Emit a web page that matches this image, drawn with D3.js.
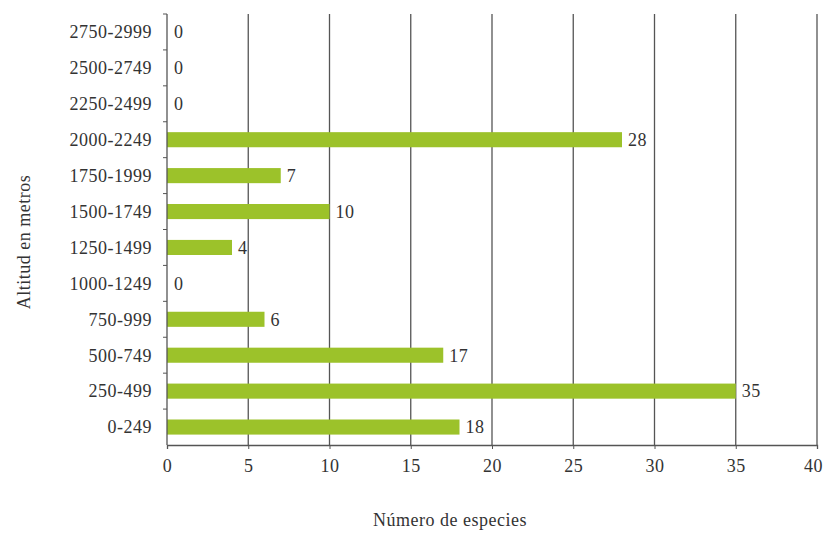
<!DOCTYPE html>
<html>
<head>
<meta charset="utf-8">
<script src="https://cdn.jsdelivr.net/npm/d3@7"></script>
<style>
  body { margin: 0; background: #fff; }
  text { font-family: "Liberation Serif", "DejaVu Serif", serif; fill: #333; letter-spacing: 0.5px; }
</style>
</head>
<body>
<script>
    var categories = ["0-249", "250-499", "500-749", "750-999", "1000-1249", "1250-1499",
                      "1500-1749", "1750-1999", "2000-2249", "2250-2499", "2500-2749", "2750-2999"];
    var values = [18, 35, 17, 6, 0, 4, 10, 7, 28, 0, 0, 0];
    var xTicks = [0, 5, 10, 15, 20, 25, 30, 35, 40];

    var margin = {top: 14, right: 7, bottom: 91, left: 167},
    width = 824 - margin.left - margin.right,
    height = 536 - margin.top - margin.bottom;

    var data = categories.map(function(c, i) { return {cat: c, val: values[i]}; });

    var x = d3.scaleLinear().domain([0, 40]).range([0, width]);
    var y = d3.scaleBand()
      .domain(categories.slice().reverse())
      .range([0, height])
      .paddingInner(0.58)
      .paddingOuter(0.29);

    var svg = d3.select("body").append("svg")
      .attr("width", 824)
      .attr("height", 536)
    .append("g")
      .attr("transform", "translate(" + margin.left + "," + margin.top + ")");

    //gridlines
    svg.selectAll(".grid")
      .data(xTicks.slice(1))
      .enter().append("line")
      .attr("x1", function(d) { return x(d); })
      .attr("x2", function(d) { return x(d); })
      .attr("y1", 0)
      .attr("y2", height)
      .style("stroke", "#555")
      .style("stroke-width", 1.3);

    //bars
    svg.selectAll(".bar")
      .data(data)
      .enter().append("rect")
      .attr("x", 0)
      .attr("y", function(d) { return y(d.cat); })
      .attr("width", function(d) { return x(d.val); })
      .attr("height", y.bandwidth())
      .style("fill", "#9cc22a");

    //value labels
    svg.selectAll(".lbl")
      .data(data)
      .enter().append("text")
      .attr("x", function(d) { return x(d.val) + (d.val === 0 ? 7 : 6); })
      .attr("y", function(d) { return y(d.cat) + y.bandwidth() / 2; })
      .attr("dy", "0.35em")
      .style("font-size", "18px")
      .text(function(d) { return d.val; });

    //x axis
    var xAxis = svg.append("g")
      .attr("transform", "translate(0," + height + ")")
      .call(d3.axisBottom(x).tickValues(xTicks).tickSize(4).tickPadding(10));
    xAxis.select(".domain").style("stroke", "#555").style("stroke-width", 1.3);
    xAxis.selectAll("line").style("stroke", "#555");
    xAxis.selectAll("text").style("font-size", "18px").style("fill", "#333")
      .style("font-family", "Liberation Serif, serif");
    // keep the last label inside the frame
    xAxis.selectAll("text").filter(function(d) { return d === 40; }).attr("dx", -4);

    //y axis line with boundary ticks
    svg.append("line")
      .attr("x1", 0).attr("x2", 0).attr("y1", 0).attr("y2", height)
      .style("stroke", "#555").style("stroke-width", 1.3);
    var bounds = categories.map(function(c) { return y(c) - y.step() * y.paddingInner() / 2; });
    svg.selectAll(".ytick")
      .data(bounds)
      .enter().append("line")
      .attr("x1", -4).attr("x2", 0)
      .attr("y1", function(d) { return d; })
      .attr("y2", function(d) { return d; })
      .style("stroke", "#555");

    svg.selectAll(".ylab")
      .data(categories)
      .enter().append("text")
      .attr("x", -15)
      .attr("y", function(d) { return y(d) + y.bandwidth() / 2; })
      .attr("dy", "0.35em")
      .attr("text-anchor", "end")
      .style("font-size", "18px")
      .text(function(d) { return d; });

    //axis titles
    svg.append("text")
      .attr("x", 450 - margin.left)
      .attr("y", 526 - margin.top)
      .attr("text-anchor", "middle")
      .style("font-size", "18px")
      .text("Número de especies");

    svg.append("text")
      .attr("transform", "translate(" + (30 - margin.left) + "," + (242 - margin.top) + ") rotate(-90)")
      .attr("text-anchor", "middle")
      .style("font-size", "18px")
      .text("Altitud  en metros");
</script>
</body>
</html>
